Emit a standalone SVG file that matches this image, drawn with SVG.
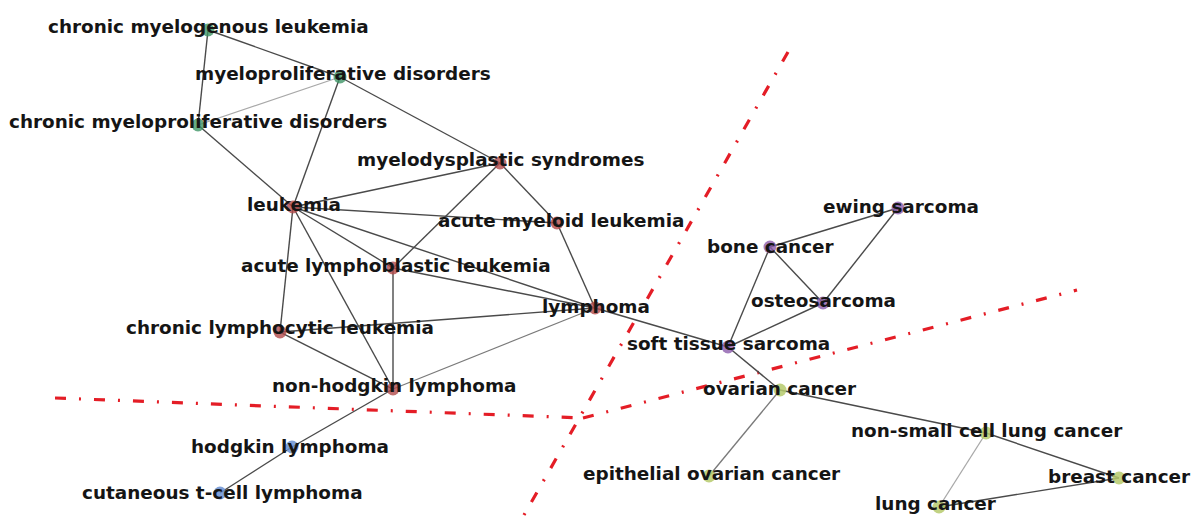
<svg xmlns="http://www.w3.org/2000/svg" width="1193" height="524" viewBox="0 0 1193 524">
<style>
  .e { stroke: #4a4a4a; stroke-width: 1.4; fill: none; }
  .el { stroke: #a8a8a8; stroke-width: 1.3; fill: none; }
  .em { stroke: #7a7a7a; stroke-width: 1.3; fill: none; }
  .sep { stroke: #e41d26; stroke-width: 3.2; fill: none; stroke-dasharray: 11 13 2 13; }
  text { font-family: "DejaVu Sans", "Liberation Sans", sans-serif; font-weight: bold; font-size: 18.4px; fill: #151515; }
  .g { fill: #3f9566; fill-opacity: 0.8; }
  .r { fill: #b24a4a; fill-opacity: 0.8; }
  .b { fill: #6a90d2; fill-opacity: 0.85; }
  .p { fill: #8c5cac; fill-opacity: 0.8; }
  .y { fill: #b6ca6c; fill-opacity: 0.85; }
</style>
<rect x="0" y="0" width="1193" height="524" fill="#ffffff"/>
<g id="separators">
  <line class="sep" x1="55" y1="398" x2="583" y2="418"/>
  <line class="sep" x1="583" y1="418" x2="1077" y2="290"/>
  <line class="sep" x1="788" y1="52" x2="520" y2="522"/>
</g>
<g id="edges">
  <line class="e" x1="208" y1="30" x2="340" y2="77"/>
  <line class="e" x1="208" y1="30" x2="198" y2="125"/>
  <line class="el" x1="340" y1="77" x2="198" y2="125"/>
  <line class="e" x1="340" y1="77" x2="293" y2="207"/>
  <line class="e" x1="340" y1="77" x2="500" y2="163"/>
  <line class="e" x1="198" y1="125" x2="293" y2="207"/>
  <line class="e" x1="500" y1="163" x2="293" y2="207"/>
  <line class="e" x1="500" y1="163" x2="557" y2="223"/>
  <line class="e" x1="500" y1="163" x2="393" y2="268"/>
  <line class="e" x1="293" y1="207" x2="557" y2="223"/>
  <line class="e" x1="293" y1="207" x2="595" y2="308"/>
  <line class="e" x1="293" y1="207" x2="393" y2="268"/>
  <line class="e" x1="293" y1="207" x2="280" y2="332"/>
  <line class="e" x1="293" y1="207" x2="393" y2="389"/>
  <line class="e" x1="557" y1="223" x2="595" y2="308"/>
  <line class="e" x1="393" y1="268" x2="595" y2="308"/>
  <line class="e" x1="393" y1="268" x2="393" y2="389"/>
  <line class="e" x1="280" y1="332" x2="595" y2="308"/>
  <line class="e" x1="280" y1="332" x2="393" y2="389"/>
  <line class="em" x1="393" y1="389" x2="595" y2="308"/>
  <line class="e" x1="393" y1="389" x2="292" y2="447"/>
  <line class="e" x1="292" y1="447" x2="220" y2="493"/>
  <line class="e" x1="595" y1="308" x2="728" y2="347"/>
  <line class="e" x1="728" y1="347" x2="770" y2="247"/>
  <line class="e" x1="728" y1="347" x2="823" y2="303"/>
  <line class="e" x1="770" y1="247" x2="823" y2="303"/>
  <line class="e" x1="770" y1="247" x2="898" y2="208"/>
  <line class="e" x1="898" y1="208" x2="823" y2="303"/>
  <line class="e" x1="728" y1="347" x2="780" y2="390"/>
  <line class="em" x1="780" y1="390" x2="709" y2="476"/>
  <line class="e" x1="780" y1="390" x2="986" y2="433"/>
  <line class="e" x1="986" y1="433" x2="1119" y2="478"/>
  <line class="el" x1="986" y1="433" x2="939" y2="507"/>
  <line class="e" x1="939" y1="507" x2="1119" y2="478"/>
</g>
<g id="n-chronic-myelogenous-leukemia"><circle class="g" cx="208" cy="30" r="6.5"/><text x="48" y="33">chronic myelogenous leukemia</text></g>
<g id="n-myeloproliferative-disorders"><circle class="g" cx="340" cy="77" r="6.5"/><text x="195" y="80">myeloproliferative disorders</text></g>
<g id="n-chronic-myeloproliferative-disorders"><circle class="g" cx="198" cy="125" r="6.5"/><text x="9" y="128">chronic myeloproliferative disorders</text></g>
<g id="n-myelodysplastic-syndromes"><circle class="r" cx="500" cy="163" r="6.5"/><text x="357" y="166">myelodysplastic syndromes</text></g>
<g id="n-leukemia"><circle class="r" cx="293" cy="207" r="6.5"/><text x="247" y="211">leukemia</text></g>
<g id="n-acute-myeloid-leukemia"><circle class="r" cx="557" cy="223" r="6.5"/><text x="438" y="227">acute myeloid leukemia</text></g>
<g id="n-acute-lymphoblastic-leukemia"><circle class="r" cx="393" cy="268" r="6.5"/><text x="241" y="272">acute lymphoblastic leukemia</text></g>
<g id="n-lymphoma"><circle class="r" cx="595" cy="308" r="6.5"/><text x="542" y="313">lymphoma</text></g>
<g id="n-chronic-lymphocytic-leukemia"><circle class="r" cx="280" cy="332" r="6.5"/><text x="126" y="334">chronic lymphocytic leukemia</text></g>
<g id="n-non-hodgkin-lymphoma"><circle class="r" cx="393" cy="389" r="6.5"/><text x="272" y="392">non-hodgkin lymphoma</text></g>
<g id="n-hodgkin-lymphoma"><circle class="b" cx="292" cy="447" r="6.5"/><text x="191" y="453">hodgkin lymphoma</text></g>
<g id="n-cutaneous-t-cell-lymphoma"><circle class="b" cx="220" cy="493" r="6.5"/><text x="82" y="499">cutaneous t-cell lymphoma</text></g>
<g id="n-ewing-sarcoma"><circle class="p" cx="898" cy="208" r="6.5"/><text x="823" y="213">ewing sarcoma</text></g>
<g id="n-bone-cancer"><circle class="p" cx="770" cy="247" r="6.5"/><text x="707" y="253">bone cancer</text></g>
<g id="n-osteosarcoma"><circle class="p" cx="823" cy="303" r="6.5"/><text x="751" y="307">osteosarcoma</text></g>
<g id="n-soft-tissue-sarcoma"><circle class="p" cx="728" cy="347" r="6.5"/><text x="627" y="350">soft tissue sarcoma</text></g>
<g id="n-ovarian-cancer"><circle class="y" cx="780" cy="390" r="6.5"/><text x="703" y="395">ovarian cancer</text></g>
<g id="n-epithelial-ovarian-cancer"><circle class="y" cx="709" cy="476" r="6.5"/><text x="583" y="480">epithelial ovarian cancer</text></g>
<g id="n-non-small-cell-lung-cancer"><circle class="y" cx="986" cy="433" r="6.5"/><text x="851" y="437">non-small cell lung cancer</text></g>
<g id="n-breast-cancer"><circle class="y" cx="1119" cy="478" r="6.5"/><text x="1048" y="483">breast cancer</text></g>
<g id="n-lung-cancer"><circle class="y" cx="939" cy="507" r="6.5"/><text x="875" y="510">lung cancer</text></g>
</svg>
